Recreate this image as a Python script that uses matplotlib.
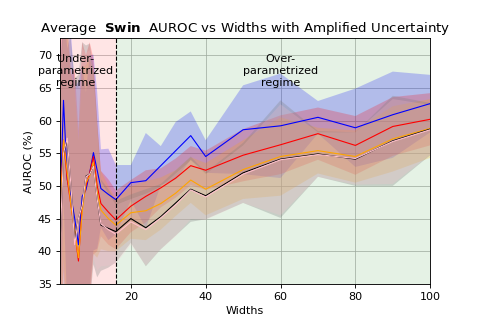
import matplotlib
matplotlib.use('Agg')
import matplotlib.pyplot as plt
import numpy as np

# widths of the network
widths = [1, 2, 3, 4, 5, 6, 7, 8, 9, 10, 11, 12, 14, 16,
          20, 24, 28, 32, 36, 40, 50, 60, 70, 80, 90, 100]

# mean AUROC (%) for each series
auroc_blue = [45.0, 63.1, 51.0, 48.4, 45.0, 41.0, 48.4, 49.4, 52.0, 55.1, 52.4, 49.6, 48.7, 47.9,
              50.5, 50.8, 53.1, 55.4, 57.7, 54.5, 58.6, 59.2, 60.5, 58.9, 60.9, 62.6]
auroc_red = [46.0, 57.0, 51.0, 47.0, 43.0, 38.5, 47.0, 50.0, 52.0, 54.5, 50.0, 47.3, 46.0, 44.8,
             46.9, 48.4, 49.7, 51.2, 53.1, 52.4, 54.7, 56.3, 58.0, 56.2, 59.1, 60.2]
auroc_orange = [44.0, 57.0, 52.0, 47.0, 43.0, 39.0, 46.0, 50.5, 51.5, 53.6, 49.0, 46.3, 45.0, 44.0,
                45.9, 46.2, 47.3, 48.9, 50.9, 49.5, 52.5, 54.5, 55.4, 54.5, 57.2, 58.8]
auroc_black = [40.0, 55.0, 57.0, 50.0, 41.5, 45.0, 47.0, 51.5, 51.8, 53.0, 48.0, 44.0, 43.5, 43.0,
               45.0, 43.6, 45.3, 47.4, 49.5, 48.5, 52.0, 54.1, 54.9, 54.1, 56.9, 58.7]
auroc_pink = [40.0, 55.0, 57.3, 50.0, 41.0, 45.0, 47.0, 51.4, 51.8, 53.0, 48.0, 44.2, 43.3, 42.6,
              44.5, 43.3, 45.1, 47.1, 49.4, 48.3, 51.8, 54.0, 54.8, 54.2, 56.8, 58.6]

# amplified uncertainty (half width of the band)
unc_blue = [20, 15, 20, 25, 20, 25, 20, 15, 18, 15, 12, 6, 7, 5.3,
            2.7, 7.3, 3.0, 4.4, 3.7, 2.5, 6.8, 8.0, 2.5, 6.0, 6.6, 4.4]
unc_red = [25, 20, 25, 20, 25, 20, 25, 20, 20, 15, 10, 5, 5, 4.5,
           4, 4, 3, 3, 3, 3, 4, 4.5, 4, 4.5, 4.5, 4.0]
unc_orange = [22, 18, 22, 20, 22, 18, 22, 18, 18, 14, 10, 6, 5, 4,
              4, 4.5, 4, 3.5, 3.5, 4, 4.5, 6, 3.5, 4, 5, 4.5]
unc_black = [25, 22, 25, 22, 25, 22, 25, 20, 20, 15, 12, 7, 6, 4.7,
             3.7, 5.9, 5, 5, 5, 3.6, 4.6, 9.0, 3.5, 4.1, 6.9, 4.0]
unc_pink = [24, 20, 24, 20, 24, 20, 24, 19, 19, 14, 11, 6.5, 5.5, 4.5,
            3.5, 5.5, 4.8, 4.8, 4.5, 3.5, 4.4, 8.5, 3.4, 4.0, 6.5, 3.8]

series = [(auroc_blue, unc_blue, 'blue'),
          (auroc_red, unc_red, 'red'),
          (auroc_orange, unc_orange, 'orange'),
          (auroc_black, unc_black, 'black'),
          (auroc_pink, unc_pink, 'pink')]

boundary = 16

fig, ax = plt.subplots(figsize=(478/80, 319/80), dpi=80)

ax.axvspan(1, boundary, color='red', alpha=0.1, lw=0)
ax.axvspan(boundary, 100, color='green', alpha=0.1, lw=0)

x = np.array(widths)
for mean, unc, col in series:
    mean = np.array(mean)
    unc = np.array(unc)
    fill_col = 'gray' if col == 'black' else col
    a = 0.3 if col == 'black' else 0.22
    ax.fill_between(x, mean - unc, mean + unc, color=fill_col, alpha=a, lw=0)
for mean, unc, col in series:
    ax.plot(x, mean, color=col, lw=1)

ax.axvline(boundary, color='black', linestyle='--', lw=1)

ax.text(5.3, 67.6, 'Under-\nparametrized\nregime', ha='center', va='center', fontsize=10)
ax.text(60, 67.6, 'Over-\nparametrized\nregime', ha='center', va='center', fontsize=10)

ax.set_xlim(1, 100)
ax.set_ylim(35, 72.6)
ax.set_xticks([20, 40, 60, 80, 100])
ax.set_yticks([35, 40, 45, 50, 55, 60, 65, 70])
ax.grid(True, color='#b0b0b0', alpha=0.8)
ax.set_axisbelow(True)
ax.set_xlabel('Widths')
ax.set_ylabel('AUROC (%)')
ax.set_title(r'Average  $\bf{Swin}$  AUROC vs Widths with Amplified Uncertainty')

plt.savefig('out.png', dpi=80)
